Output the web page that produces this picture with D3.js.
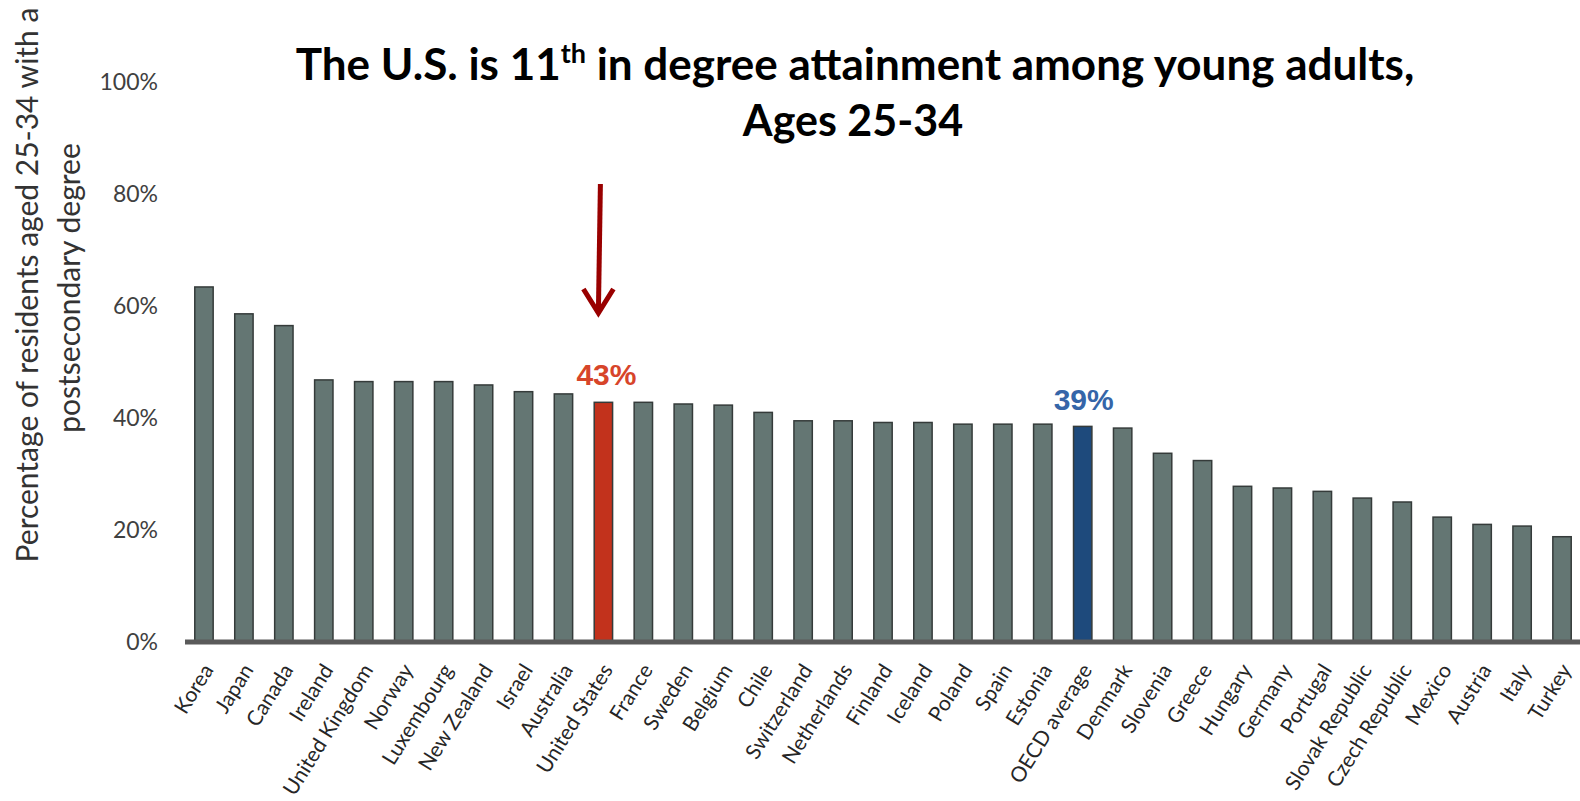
<!DOCTYPE html>
<html>
<head>
<meta charset="utf-8">
<script src="https://cdn.jsdelivr.net/npm/d3@7"></script>
<style>
  html, body { margin: 0; padding: 0; background: #fff; }
  svg { display: block; }
</style>
</head>
<body>
<svg id="chart" width="1580" height="801"></svg>
<script>
const categories = ["Korea","Japan","Canada","Ireland","United Kingdom","Norway","Luxembourg","New Zealand","Israel","Australia","United States","France","Sweden","Belgium","Chile","Switzerland","Netherlands","Finland","Iceland","Poland","Spain","Estonia","OECD average","Denmark","Slovenia","Greece","Hungary","Germany","Portugal","Slovak Republic","Czech Republic","Mexico","Austria","Italy","Turkey"];
const values = [63.4,58.6,56.5,46.8,46.5,46.5,46.5,45.9,44.7,44.3,42.8,42.8,42.5,42.3,41.0,39.5,39.5,39.2,39.2,38.9,38.9,38.9,38.5,38.2,33.7,32.4,27.8,27.5,26.9,25.7,25.0,22.3,21.0,20.7,18.8];
const yTicks = [0,20,40,60,80,100];
const highlightUS = "United States";
const highlightOECD = "OECD average";
const usLabel = "43%";
const oecdLabel = "39%";
const titleLine2 = "Ages 25-34";
const yTitle = ["Percentage of residents aged 25-34 with a", "postsecondary degree"];

const svg = d3.select("#chart");
const x = d3.scaleBand().domain(categories).range([184, 1582]).paddingInner(0.54).paddingOuter(0.27);
const y = d3.scaleLinear().domain([0, 100]).range([642, 82]);

const barColor = d => d === highlightUS ? "#C2321C" : d === highlightOECD ? "#1E4A7C" : "#647673";

// bars
svg.append("g").selectAll("rect").data(categories).join("rect")
  .attr("x", d => x(d))
  .attr("y", (d, i) => y(values[i]))
  .attr("width", x.bandwidth())
  .attr("height", (d, i) => y(0) - y(values[i]))
  .attr("fill", barColor)
  .attr("stroke", "#353b3a")
  .attr("stroke-width", 1.5);

// baseline axis
const xAxis = d3.axisBottom(x).tickSize(0).tickPadding(0);
const gx = svg.append("g").attr("transform", `translate(0,${y(0)})`).call(xAxis);
gx.select(".domain").attr("stroke", "#5a5a5a").attr("stroke-width", 5).attr("d", "M185,0H1580");
gx.selectAll(".tick text")
  .attr("font-family", "Lato, 'Open Sans', sans-serif")
  .attr("font-size", 21)
  .attr("fill", "#262626")
  .attr("text-anchor", "end")
  .attr("dy", "0.35em")
  .attr("transform", "translate(4,24) rotate(-58)");

// y axis labels
const yAxis = d3.axisLeft(y).tickValues(yTicks).tickSize(0).tickPadding(0).tickFormat(d => d + "%");
const gy = svg.append("g").attr("transform", "translate(158,0)").call(yAxis);
gy.select(".domain").remove();
gy.selectAll(".tick text")
  .attr("font-family", "Lato, 'Open Sans', sans-serif")
  .attr("font-size", 23)
  .attr("fill", "#404040");

// y title
svg.append("text")
  .attr("transform", "translate(38,285) rotate(-90)")
  .attr("text-anchor", "middle")
  .attr("font-family", "Lato, 'Open Sans', sans-serif")
  .attr("font-size", 30)
  .attr("fill", "#333")
  .text(yTitle[0]);
svg.append("text")
  .attr("transform", "translate(80,288) rotate(-90)")
  .attr("text-anchor", "middle")
  .attr("font-family", "Lato, 'Open Sans', sans-serif")
  .attr("font-size", 30)
  .attr("fill", "#333")
  .text(yTitle[1]);

// title
const t1 = svg.append("text")
  .attr("x", 855).attr("y", 80)
  .attr("text-anchor", "middle")
  .attr("font-family", "Lato, sans-serif")
  .attr("font-weight", "bold")
  .attr("font-size", 44)
  .attr("fill", "#000");
t1.append("tspan").text("The U.S. is 11");
t1.append("tspan").attr("font-size", 27).attr("dy", -17).text("th");
t1.append("tspan").attr("dy", 17).text(" in degree attainment among young adults,");
svg.append("text")
  .attr("x", 853).attr("y", 136)
  .attr("text-anchor", "middle")
  .attr("font-family", "Lato, sans-serif")
  .attr("font-weight", "bold")
  .attr("font-size", 43)
  .attr("fill", "#000")
  .text(titleLine2);

// value labels
const usIdx = categories.indexOf(highlightUS);
const oecdIdx = categories.indexOf(highlightOECD);
svg.append("text")
  .attr("x", x(highlightUS) + x.bandwidth() / 2 + 3)
  .attr("y", y(values[usIdx]) - 17)
  .attr("text-anchor", "middle")
  .attr("font-family", "'Liberation Sans', Arial, sans-serif")
  .attr("font-weight", "bold")
  .attr("font-size", 30)
  .attr("fill", "#D7452A")
  .text(usLabel);
svg.append("text")
  .attr("x", x(highlightOECD) + x.bandwidth() / 2 + 1)
  .attr("y", y(values[oecdIdx]) - 16)
  .attr("text-anchor", "middle")
  .attr("font-family", "'Liberation Sans', Arial, sans-serif")
  .attr("font-weight", "bold")
  .attr("font-size", 30)
  .attr("fill", "#3565A8")
  .text(oecdLabel);

// arrow
const ax = x(highlightUS) + x.bandwidth() / 2 - 5;
const arrow = svg.append("g").attr("stroke", "#990000").attr("fill", "none").attr("stroke-width", 5).attr("stroke-linecap", "butt");
arrow.append("line").attr("x1", ax + 2).attr("y1", 184).attr("x2", ax).attr("y2", 312);
arrow.append("path").attr("d", `M${ax - 15},${289} L${ax},${313} L${ax + 15},${289}`).attr("stroke-linejoin", "miter");
</script>
</body>
</html>
